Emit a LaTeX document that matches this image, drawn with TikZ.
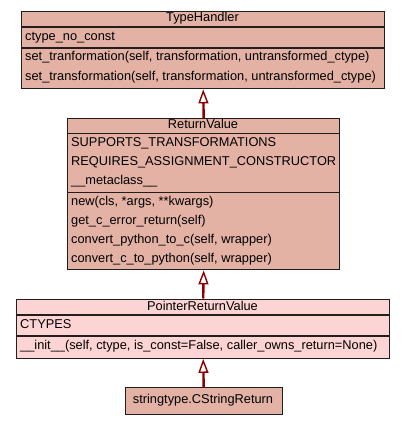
\documentclass[tikz,border=0pt]{standalone}
\usepackage{fontspec}
\setmainfont{Liberation Sans}
\usetikzlibrary{arrows.meta}

\definecolor{classfill}{RGB}{227,178,165}
\definecolor{focusfill}{RGB}{253,212,212}
\definecolor{linkred}{RGB}{140,0,0}
\definecolor{boxline}{RGB}{35,30,30}

\tikzset{
  classbox/.style={draw=boxline, line width=1.4pt, fill=classfill, anchor=north west, inner sep=0pt},
  sepline/.style={draw=boxline, line width=1.4pt},
  member/.style={anchor=west, inner sep=0pt, font=\fontsize{12.8}{14}\selectfont},
  classname/.style={anchor=center, inner sep=0pt, font=\fontsize{12.8}{14}\selectfont},
  inherits/.style={draw=linkred, line width=2.4pt, -{Triangle[open, fill=white, length=14pt, width=10pt, line width=1.4pt]}}
}

\begin{document}
\begin{tikzpicture}[x=1pt,y=-1pt]
\useasboundingbox (0,0) rectangle (405,424);

% TypeHandler
\node[classbox, minimum width=363pt, minimum height=77pt] (typehandler) at (21,11) {};
\draw[sepline] (21,27) -- (384,27);
\draw[sepline] (21,48) -- (384,48);
\node[classname] (th_name) at (202.5,18) {TypeHandler};
\node[member] (th_attr) at (25,37.5) {ctype\_no\_const};
\node[member] (th_m1) at (25,57.5) {set\_tranformation(self, transformation, untransformed\_ctype)};
\node[member] (th_m2) at (25,77) {set\_transformation(self, transformation, untransformed\_ctype)};

% ReturnValue
\node[classbox, minimum width=272pt, minimum height=151pt] (returnvalue) at (67,118) {};
\draw[sepline] (67,133.5) -- (339,133.5);
\draw[sepline] (67,192.5) -- (339,192.5);
\node[classname] (rv_name) at (203,124) {ReturnValue};
\node[member] (rv_a1) at (71,143) {SUPPORTS\_TRANSFORMATIONS};
\node[member] (rv_a2) at (71,162) {REQUIRES\_ASSIGNMENT\_CONSTRUCTOR};
\node[member] (rv_a3) at (71,181) {\_\_metaclass\_\_};
\node[member] (rv_m1) at (71,202.5) {new(cls, *args, **kwargs)};
\node[member] (rv_m2) at (71,221.5) {get\_c\_error\_return(self)};
\node[member] (rv_m3) at (71,240.5) {convert\_python\_to\_c(self, wrapper)};
\node[member] (rv_m4) at (71,259) {convert\_c\_to\_python(self, wrapper)};

% PointerReturnValue
\node[classbox, fill=focusfill, minimum width=373pt, minimum height=59pt] (pointerreturn) at (16,298.5) {};
\draw[sepline] (16,315) -- (389,315);
\draw[sepline] (16,336) -- (389,336);
\node[classname] (pr_name) at (202.5,305.5) {PointerReturnValue};
\node[member] (pr_attr) at (20,324) {CTYPES};
\node[member] (pr_m1) at (20,346) {\_\_init\_\_(self, ctype, is\_const=False, caller\_owns\_return=None)};

% stringtype.CStringReturn
\node[classbox, minimum width=157pt, minimum height=27pt] (cstringreturn) at (124.5,387) {};
\node[classname] (cs_name) at (203,400) {stringtype.CStringReturn};

% inheritance
\draw[inherits] (returnvalue.north) -- (typehandler.south);
\draw[inherits] (pointerreturn.north) -- (returnvalue.south);
\draw[inherits] (cstringreturn.north) -- (pointerreturn.south);
\end{tikzpicture}
\end{document}
